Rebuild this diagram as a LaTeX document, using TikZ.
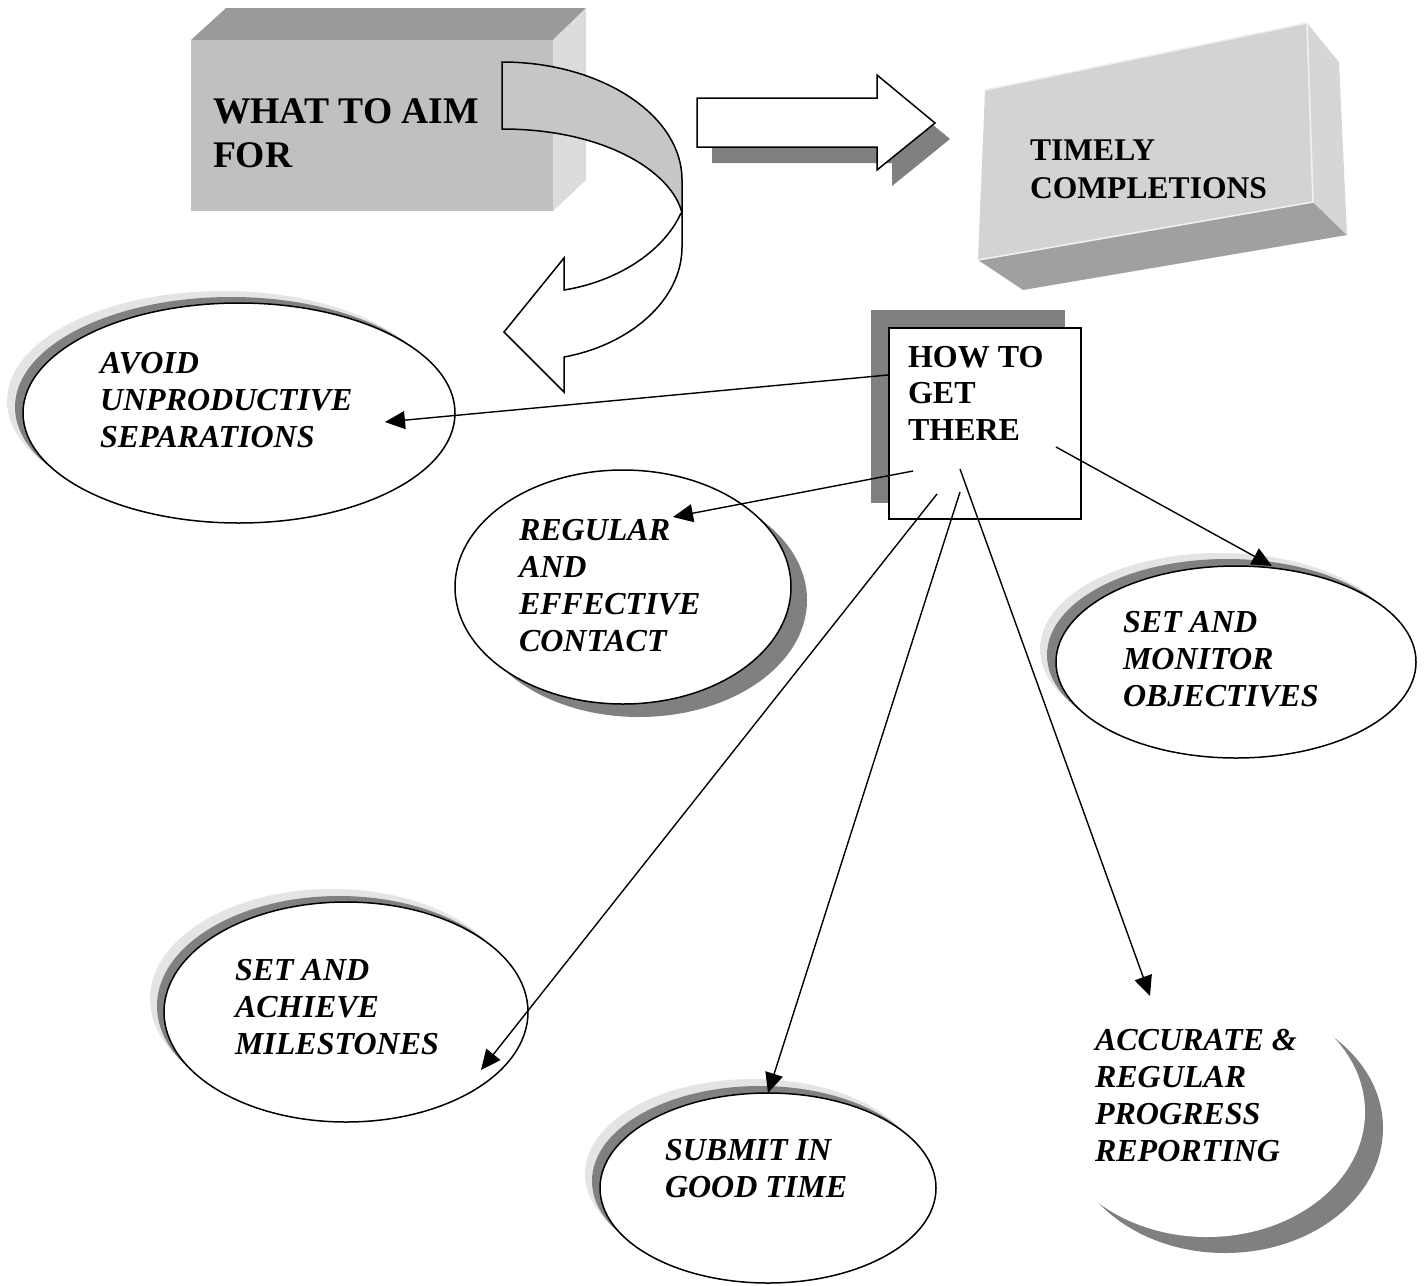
\documentclass[tikz,border=0pt]{standalone}
\usepackage{fontspec}
\setmainfont{Liberation Serif}
\usetikzlibrary{arrows.meta,shapes.geometric}
\newcommand\txtlines[1]{\begin{tabular}[t]{@{}l@{}}#1\end{tabular}}
\definecolor{aimfront}{HTML}{C0C0C0}
\definecolor{aimtop}{HTML}{9A9A9A}
\definecolor{aimside}{HTML}{DCDCDC}
\definecolor{bandgray}{HTML}{C6C6C6}
\definecolor{tcfront}{HTML}{D3D3D3}
\definecolor{tcside}{HTML}{D6D6D6}
\definecolor{tcbottom}{HTML}{A0A0A0}
\definecolor{hilite}{HTML}{F0F0F0}
\definecolor{shdark}{HTML}{808080}
\definecolor{shlight}{HTML}{E4E4E4}
\begin{document}
\begin{tikzpicture}[x=0.5pt,y=-0.5pt,
  lbl/.style={anchor=base west,inner sep=0pt,outer sep=0pt},
  elltxt/.style={lbl,font=\fontsize{16}{18.6}\selectfont\bfseries\itshape},
  oval/.style={ellipse,draw=black,line width=0.75pt,fill=white,inner sep=0pt},
  conn/.style={line width=0.7pt,-{Triangle[length=10pt,width=9pt]}},
  outl/.style={draw=black,line width=0.75pt,line join=miter}]
\useasboundingbox (0,0) rectangle (1428,1285);

% ---- WHAT TO AIM FOR (3D box) ----
\fill[aimtop] (191,40) -- (226,8) -- (586,8) -- (553,40) -- cycle;
\fill[aimside] (553,40) -- (586,8) -- (586,180) -- (553,211) -- cycle;
\node[fill=aimfront,minimum width=181pt,minimum height=85.5pt,inner sep=0pt,anchor=north west] (aim) at (191,40) {};
\node[lbl,font=\fontsize{18.8}{22}\selectfont\bfseries] (aimtxt) at (213,123) {\txtlines{WHAT TO AIM\\FOR}};

% ---- curved arrow ----
\path[outl,fill=bandgray] (502,62) .. controls (601,62) and (682,115) .. (682,180) -- (682,213)
   .. controls (672,172) and (605,129) .. (502,129) -- cycle;
\path[outl,fill=white] (681,213) .. controls (663,253) and (615,282) .. (564,290) -- (564,258)
   -- (504,332) -- (564,392) -- (564,357) .. controls (630,345) and (682,300) .. (682,247) -- (682,213);

% ---- block arrow ----
\fill[shdark] (712,114) -- (892,114) -- (892,91) -- (950,139) -- (892,186) -- (892,163) -- (712,163) -- cycle;
\path[outl,fill=white] (697,98) -- (877,98) -- (877,75) -- (935,123) -- (877,170) -- (877,147) -- (697,147) -- cycle;

% ---- TIMELY COMPLETIONS (3D box) ----
\fill[tcbottom] (978,260) -- (1313,202) -- (1347,235) -- (1023,290) -- cycle;
\fill[tcside] (1307,23) -- (1339,62) -- (1347,235) -- (1313,202) -- cycle;
\fill[tcfront] (985,90) -- (1307,23) -- (1313,202) -- (978,260) -- cycle;
\draw[hilite,line width=0.8pt] (985,90) -- (1307,23) -- (1313,202) -- (978,260);
\node[lbl,font=\fontsize{15.8}{19}\selectfont\bfseries] (timely) at (1030,160) {\txtlines{TIMELY\\COMPLETIONS}};

% ---- HOW TO GET THERE ----
\fill[shdark] (871,310) rectangle (1065,503);
\node[draw=black,line width=0.75pt,fill=white,inner sep=0pt,minimum width=96pt,minimum height=95.5pt,anchor=north west] (how) at (888,327) {};
\node[lbl,font=\fontsize{16}{18.3}\selectfont\bfseries] (howtxt) at (908,367) {\txtlines{HOW TO\\GET\\THERE}};

% ---- ellipses ----
\fill[shlight] (223,401) ellipse [x radius=108pt,y radius=55pt];
\fill[shdark] (231,407) ellipse [x radius=108pt,y radius=55pt];
\node[oval,minimum width=216pt,minimum height=110pt] (avoid) at (239,413) {};
\node[elltxt] (avoidtxt) at (100,373) {\txtlines{AVOID\\UNPRODUCTIVE\\SEPARATIONS}};

\fill[shdark] (639,600) ellipse [x radius=84pt,y radius=58.5pt];
\node[oval,minimum width=168pt,minimum height=117pt] (regular) at (623,587) {};
\node[elltxt] (regulartxt) at (519,540) {\txtlines{REGULAR\\AND\\EFFECTIVE\\CONTACT}};

\fill[shlight] (1220,649) ellipse [x radius=90pt,y radius=48pt];
\fill[shdark] (1227,655) ellipse [x radius=90pt,y radius=48pt];
\node[oval,minimum width=180pt,minimum height=96pt] (monitor) at (1236,662) {};
\node[elltxt] (monitortxt) at (1123,632) {\txtlines{SET AND\\MONITOR\\OBJECTIVES}};

\fill[shlight] (332,999) ellipse [x radius=91pt,y radius=55pt];
\fill[shdark] (339,1006) ellipse [x radius=91pt,y radius=55pt];
\node[oval,minimum width=182pt,minimum height=110pt] (miles) at (346,1012) {};
\node[elltxt] (milestxt) at (235,980) {\txtlines{SET AND\\ACHIEVE\\MILESTONES}};

\fill[shlight] (753,1174) ellipse [x radius=84pt,y radius=47.5pt];
\fill[shdark] (760,1181) ellipse [x radius=84pt,y radius=47.5pt];
\node[oval,minimum width=168pt,minimum height=95pt] (submit) at (768,1188) {};
\node[elltxt] (submittxt) at (665,1160) {\txtlines{SUBMIT IN\\GOOD TIME}};

\fill[shdark] (1225,1128) ellipse [x radius=79pt,y radius=62.5pt];
\node[ellipse,fill=white,inner sep=0pt,minimum width=158pt,minimum height=125pt] (accurate) at (1207,1112) {};
\node[elltxt] (accuratetxt) at (1095,1050) {\txtlines{ACCURATE \&\\REGULAR\\PROGRESS\\REPORTING}};

% ---- connectors ----
\coordinate (sAvoid) at (888,375);   \coordinate (tAvoid) at (385,422);
\coordinate (sRegular) at (913,471); \coordinate (tRegular) at (673,517);
\coordinate (sMonitor) at (1056,447);\coordinate (tMonitor) at (1272,566);
\coordinate (sMiles) at (937,494);   \coordinate (tMiles) at (481,1070);
\coordinate (sSubmit) at (960,492);  \coordinate (tSubmit) at (768,1093);
\coordinate (sAcc) at (960,469);     \coordinate (tAcc) at (1150,996);
\draw[conn] (sAvoid) -- (tAvoid);
\draw[conn] (sRegular) -- (tRegular);
\draw[conn] (sMonitor) -- (tMonitor);
\draw[conn] (sMiles) -- (tMiles);
\draw[conn] (sSubmit) -- (tSubmit);
\draw[conn] (sAcc) -- (tAcc);
\end{tikzpicture}
\end{document}
